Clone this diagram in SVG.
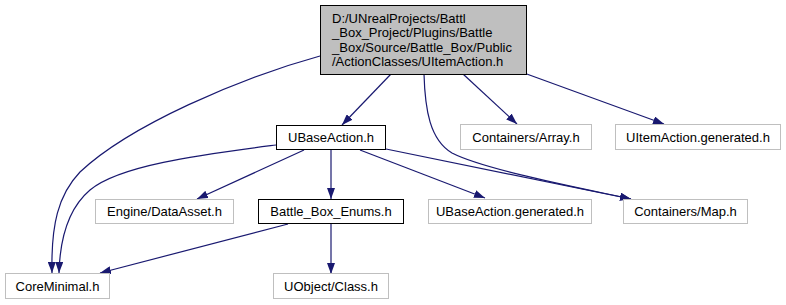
<svg xmlns="http://www.w3.org/2000/svg" width="786" height="305" viewBox="0 0 786 305">
  <defs>
    <marker id="arrow" markerUnits="userSpaceOnUse" markerWidth="11" markerHeight="8" refX="11" refY="4" orient="auto">
      <path d="M0,0 L11,4 L0,8 z" fill="#191970"/>
    </marker>
    <style>
      .node text { font-family: "Liberation Sans", Arial, sans-serif; font-size: 13px; fill: #000; text-anchor: middle; }
      .node text.left { text-anchor: start; }
      .ext rect { fill: #fff; stroke: #bfbfbf; stroke-width: 1; }
      .doc rect { fill: #fff; stroke: #000; stroke-width: 1; }
      .main rect { fill: #bfbfbf; stroke: #000; stroke-width: 1; }
      .edges path { fill: none; stroke: #191970; stroke-width: 1.2; marker-end: url(#arrow); }
    </style>
  </defs>
  <rect width="786" height="305" fill="#fff"/>

  <g class="edges" id="edges">
    <path d="M391,74 L342,125"/>
    <path d="M463,74 L517,124"/>
    <path d="M524,73 L664,124"/>
    <path d="M424,74 C425,110 430,140 452,153 C485,170 585,189 631,199"/>
    <path d="M320,56 C240,78 130,125 80,172 C58,195 51,225 52,273"/>
    <path d="M276,145 C200,155 120,165 90,190 C70,207 60,235 59,273"/>
    <path d="M304,150 L197,199"/>
    <path d="M331,150 L331,199"/>
    <path d="M360,150 L485,198"/>
    <path d="M386,149 L631,199"/>
    <path d="M288,224 L100,273"/>
    <path d="M331,224 L331,274"/>
  </g>

  <g class="node main" id="node-uitemaction">
    <rect x="320.5" y="5.5" width="206" height="69"/>
    <text class="left" x="332" y="22.5">D:/UNrealProjects/Battl</text>
    <text class="left" x="332" y="37">_Box_Project/Plugins/Battle</text>
    <text class="left" x="332" y="51.5">_Box/Source/Battle_Box/Public</text>
    <text class="left" x="332" y="66">/ActionClasses/UItemAction.h</text>
  </g>

  <g class="node doc" id="node-ubaseaction">
    <rect x="276.5" y="125.5" width="109" height="24"/>
    <text x="331" y="142">UBaseAction.h</text>
  </g>

  <g class="node ext" id="node-array">
    <rect x="460.5" y="124.5" width="131" height="25"/>
    <text x="526" y="142">Containers/Array.h</text>
  </g>

  <g class="node ext" id="node-uitemaction-generated">
    <rect x="615.5" y="124.5" width="165" height="25"/>
    <text x="698" y="142">UItemAction.generated.h</text>
  </g>

  <g class="node ext" id="node-dataasset">
    <rect x="95.5" y="199.5" width="138" height="24"/>
    <text x="164.5" y="216">Engine/DataAsset.h</text>
  </g>

  <g class="node doc" id="node-enums">
    <rect x="258.5" y="199.5" width="145" height="24"/>
    <text x="331" y="216">Battle_Box_Enums.h</text>
  </g>

  <g class="node ext" id="node-ubaseaction-generated">
    <rect x="428.5" y="199.5" width="163" height="24"/>
    <text x="510" y="216">UBaseAction.generated.h</text>
  </g>

  <g class="node ext" id="node-map">
    <rect x="623.5" y="199.5" width="124" height="24"/>
    <text x="685.5" y="216">Containers/Map.h</text>
  </g>

  <g class="node ext" id="node-coreminimal">
    <rect x="5.5" y="273.5" width="104" height="25"/>
    <text x="57.5" y="291">CoreMinimal.h</text>
  </g>

  <g class="node ext" id="node-class">
    <rect x="273.5" y="273.5" width="115" height="25"/>
    <text x="331" y="291">UObject/Class.h</text>
  </g>
</svg>
